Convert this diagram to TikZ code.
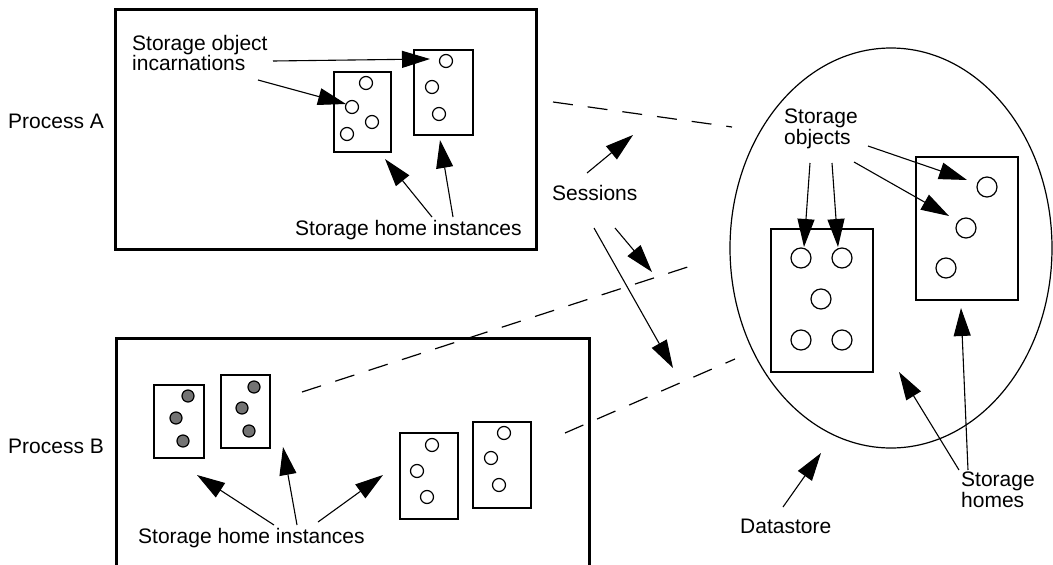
\documentclass[tikz,border=0pt]{standalone}
\usepackage{fontspec}
\setmainfont{Liberation Sans}
\usetikzlibrary{arrows.meta,shapes.geometric}
\begin{document}
\begin{tikzpicture}[x=1pt,y=-1pt,
  lbl/.style={inner sep=0pt,font=\fontsize{21pt}{19.5pt}\selectfont},
  mlbl/.style={lbl,align=left,anchor=north west},
  procbox/.style={draw,line width=2.6pt,anchor=north west,inner sep=0pt},
  homebox/.style={draw,line width=2.3pt,anchor=north west,inner sep=0pt},
  obj/.style={circle,draw,line width=1.2pt,minimum size=13pt,inner sep=0pt},
  bigobj/.style={obj,minimum size=20pt},
  fobj/.style={obj,fill=black!55,minimum size=12pt},
  arr/.style={-{Triangle[length=28pt,width=17pt]},line width=1.1pt},
  sess/.style={line width=1.2pt,dash pattern=on 20pt off 15pt}]
\useasboundingbox (0,0) rectangle (1053,565);
\clip (0,0) rectangle (1053,565);
\fill[white] (0,0) rectangle (1053,565);

% process boxes
\node[procbox,minimum width=421pt,minimum height=240pt] (pA) at (114,8) {};
\node[procbox,minimum width=473pt,minimum height=250pt] (pB) at (115,337) {};
\node[lbl,anchor=base west] (lA) at (8,128) {Process A};
\node[lbl,anchor=base west] (lB) at (8,453) {Process B};

% Process A storage homes
\node[homebox,minimum width=57pt,minimum height=80pt] (a1) at (333,71) {};
\node[homebox,minimum width=59pt,minimum height=85pt] (a2) at (413,49) {};
\node[obj] (a1c1) at (366,83) {};
\node[obj] (a1c2) at (352,107) {};
\node[obj] (a1c3) at (372,122) {};
\node[obj] (a1c4) at (347,134) {};
\node[obj] (a2c1) at (446,61) {};
\node[obj] (a2c2) at (432,87) {};
\node[obj] (a2c3) at (439,114) {};

% Process B storage homes
\node[homebox,minimum width=50pt,minimum height=73pt] (b1) at (153,384) {};
\node[homebox,minimum width=49pt,minimum height=73pt] (b2) at (220,374) {};
\node[homebox,minimum width=58pt,minimum height=86pt] (b3) at (399,432) {};
\node[homebox,minimum width=58pt,minimum height=86pt] (b4) at (472,421) {};
\node[fobj] (b1c1) at (188,396) {};
\node[fobj] (b1c2) at (176,418) {};
\node[fobj] (b1c3) at (183,441) {};
\node[fobj] (b2c1) at (254,387) {};
\node[fobj] (b2c2) at (242,408) {};
\node[fobj] (b2c3) at (249,431) {};
\node[obj] (b3c1) at (432,445) {};
\node[obj] (b3c2) at (417,471) {};
\node[obj] (b3c3) at (427,497) {};
\node[obj] (b4c1) at (504,433) {};
\node[obj] (b4c2) at (491,458) {};
\node[obj] (b4c3) at (499,485) {};

% Datastore
\node[draw,ellipse,line width=1.2pt,minimum width=322pt,minimum height=400pt,inner sep=0pt] (ds) at (891,248) {};
\node[homebox,minimum width=102pt,minimum height=143pt] (d1) at (770,228) {};
\node[homebox,minimum width=102pt,minimum height=143pt] (d2) at (915,156) {};
\node[bigobj] (d1c1) at (801,258) {};
\node[bigobj] (d1c2) at (842,258) {};
\node[bigobj] (d1c3) at (821,299) {};
\node[bigobj] (d1c4) at (801,340) {};
\node[bigobj] (d1c5) at (842,340) {};
\node[bigobj] (d2c1) at (987,187) {};
\node[bigobj] (d2c2) at (966,228) {};
\node[bigobj] (d2c3) at (946,268) {};

% labels
\node[mlbl] (soi) at (132,35) {Storage object\\incarnations};
\node[lbl,anchor=base west] (shiA) at (295,235) {Storage home instances};
\node[lbl,anchor=base west] (shiB) at (138,543) {Storage home instances};
\node[lbl,anchor=base west] (sess) at (552,200) {Sessions};
\node[mlbl] (so) at (784,109) {Storage\\objects};
\node[mlbl] (sh) at (961,472) {Storage\\homes};
\node[lbl,anchor=base west] (dsl) at (740,533) {Datastore};

% arrow end points
\coordinate (s1a) at (273,61);  \coordinate (s1b) at (430,59);
\coordinate (s2a) at (258,80);  \coordinate (s2b) at (346,104);
\coordinate (h1a) at (432,217); \coordinate (h1b) at (385,159);
\coordinate (h2a) at (453,217); \coordinate (h2b) at (440,140);
\coordinate (e1a) at (587,173); \coordinate (e1b) at (633,135);
\coordinate (e2a) at (615,228); \coordinate (e2b) at (652,272);
\coordinate (e3a) at (594,228); \coordinate (e3b) at (673,368);
\coordinate (o1a) at (810,163); \coordinate (o1b) at (804,247);
\coordinate (o2a) at (832,163); \coordinate (o2b) at (838,247);
\coordinate (o3a) at (868,146); \coordinate (o3b) at (967,180);
\coordinate (o4a) at (854,162); \coordinate (o4b) at (949,216);
\coordinate (m1a) at (959,470); \coordinate (m1b) at (899,372);
\coordinate (m2a) at (968,470); \coordinate (m2b) at (961,308);
\coordinate (dla) at (783,507); \coordinate (dlb) at (821,453);
\coordinate (g1a) at (274,525); \coordinate (g1b) at (197,475);
\coordinate (g2a) at (297,525); \coordinate (g2b) at (283,447);
\coordinate (g3a) at (318,522); \coordinate (g3b) at (383,475);
\coordinate (q1a) at (553,102); \coordinate (q1b) at (732,127);
\coordinate (q2a) at (302,392); \coordinate (q2b) at (700,263);
\coordinate (q3a) at (565,433); \coordinate (q3b) at (735,359);

% arrows
\draw[arr] (s1a) -- (s1b);
\draw[arr] (s2a) -- (s2b);
\draw[arr] (h1a) -- (h1b);
\draw[arr] (h2a) -- (h2b);
\draw[arr] (e1a) -- (e1b);
\draw[arr] (e2a) -- (e2b);
\draw[arr] (e3a) -- (e3b);
\draw[arr] (o1a) -- (o1b);
\draw[arr] (o2a) -- (o2b);
\draw[arr] (o3a) -- (o3b);
\draw[arr] (o4a) -- (o4b);
\draw[arr] (m1a) -- (m1b);
\draw[arr] (m2a) -- (m2b);
\draw[arr] (dla) -- (dlb);
\draw[arr] (g1a) -- (g1b);
\draw[arr] (g2a) -- (g2b);
\draw[arr] (g3a) -- (g3b);

% sessions (dashed)
\draw[sess] (q1a) -- (q1b);
\draw[sess] (q2a) -- (q2b);
\draw[sess] (q3a) -- (q3b);
\end{tikzpicture}
\end{document}
